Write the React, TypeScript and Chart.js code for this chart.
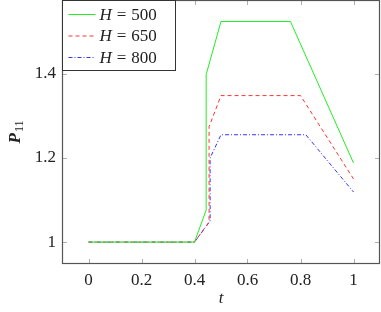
import React, { useEffect, useRef } from "react";
import { Chart, registerables } from "chart.js";

Chart.register(...registerables);

const tGreen = [0, 0.4, 0.444, 0.444, 0.5, 0.762, 1];
const pGreen = [1, 1, 1.076, 1.398, 1.524, 1.524, 1.188];
const tRed = [0, 0.4, 0.455, 0.455, 0.5, 0.8, 1];
const pRed = [1, 1, 1.048, 1.274, 1.348, 1.348, 1.15];
const tBlue = [0, 0.4, 0.459, 0.459, 0.5, 0.82, 1];
const pBlue = [1, 1, 1.05, 1.2, 1.255, 1.255, 1.119];
const legendValues = ["500", "650", "800"];
const xTicks = [0, 0.2, 0.4, 0.6, 0.8, 1];
const yTicks = [1, 1.2, 1.4];

const FONT = "'Liberation Serif', 'DejaVu Serif', serif";

const zip = (xs: number[], ys: number[]) => xs.map((x, i) => ({ x, y: ys[i] }));

const decor = {
  id: "decor",
  afterDraw(chart: any) {
    const ctx = chart.ctx as CanvasRenderingContext2D;
    const a = chart.chartArea;
    const xs = chart.scales.x;
    const ys = chart.scales.y;
    ctx.save();
    ctx.strokeStyle = "#b0b0b0";
    ctx.lineWidth = 1;
    ctx.beginPath();
    for (const v of xTicks) {
      const px = Math.round(xs.getPixelForValue(v)) + 0.5;
      ctx.moveTo(px, a.bottom);
      ctx.lineTo(px, a.bottom - 5);
      ctx.moveTo(px, a.top);
      ctx.lineTo(px, a.top + 5);
    }
    for (const v of yTicks) {
      const py = Math.round(ys.getPixelForValue(v)) + 0.5;
      ctx.moveTo(a.left, py);
      ctx.lineTo(a.left + 5, py);
      ctx.moveTo(a.right, py);
      ctx.lineTo(a.right - 5, py);
    }
    ctx.stroke();
    ctx.strokeStyle = "#555555";
    ctx.lineWidth = 1.2;
    ctx.strokeRect(a.left + 0.5, a.top + 0.5, a.right - a.left - 1, a.bottom - a.top - 1);

    const lx = a.left + 0.5;
    const ly = a.top + 0.5;
    const lw = 113;
    const lh = 70;
    ctx.fillStyle = "#ffffff";
    ctx.fillRect(lx, ly, lw, lh);
    ctx.strokeStyle = "#333333";
    ctx.lineWidth = 1;
    ctx.strokeRect(lx, ly, lw, lh);
    chart.data.datasets.forEach((ds: any, i: number) => {
      const yy = ly + 14 + i * 21.5;
      ctx.strokeStyle = ds.borderColor;
      ctx.lineWidth = ds.borderWidth;
      ctx.setLineDash(ds.borderDash || []);
      ctx.beginPath();
      ctx.moveTo(lx + 6, yy);
      ctx.lineTo(lx + 33, yy);
      ctx.stroke();
      ctx.setLineDash([]);
      ctx.fillStyle = "#222222";
      ctx.textBaseline = "middle";
      ctx.textAlign = "left";
      ctx.font = `italic 17px ${FONT}`;
      ctx.fillText("H", lx + 37, yy + 1);
      const hw = ctx.measureText("H").width;
      ctx.font = `17px ${FONT}`;
      ctx.fillText("=", lx + 37 + hw + 5, yy + 1);
      const ew = ctx.measureText("=").width;
      ctx.fillText(legendValues[i], lx + 37 + hw + 5 + ew + 5, yy + 1);
    });

    ctx.fillStyle = "#222222";
    ctx.font = `italic 17px ${FONT}`;
    ctx.textAlign = "center";
    ctx.textBaseline = "middle";
    ctx.fillText("t", (a.left + a.right) / 2, 299);

    ctx.translate(14, (a.top + a.bottom) / 2);
    ctx.rotate(-Math.PI / 2);
    ctx.font = `bold italic 17px ${FONT}`;
    const pw = ctx.measureText("P").width;
    ctx.font = `12px ${FONT}`;
    const sw = ctx.measureText("11").width;
    const total = pw + 1 + sw;
    ctx.textAlign = "left";
    ctx.textBaseline = "alphabetic";
    ctx.font = `bold italic 17px ${FONT}`;
    ctx.fillText("P", -total / 2, 6);
    ctx.font = `12px ${FONT}`;
    ctx.fillText("11", -total / 2 + pw + 1, 9);
    ctx.restore();
  },
};

export default function App() {
  const ref = useRef<HTMLCanvasElement>(null);
  useEffect(() => {
    document.body.style.margin = "0";
    let chart: Chart | null = null;
    let cancelled = false;
    const build = () => {
      if (cancelled || !ref.current) return;
      chart = new Chart(ref.current, {
        type: "scatter",
        data: {
          datasets: [
            {
              label: "H = 500",
              data: zip(tGreen, pGreen),
              showLine: true,
              borderColor: "#22ee22",
              backgroundColor: "#22ee22",
              borderWidth: 1,
              pointRadius: 0,
            },
            {
              label: "H = 650",
              data: zip(tRed, pRed),
              showLine: true,
              borderColor: "#ff3333",
              backgroundColor: "#ff3333",
              borderWidth: 1,
              borderDash: [4, 3],
              pointRadius: 0,
            },
            {
              label: "H = 800",
              data: zip(tBlue, pBlue),
              showLine: true,
              borderColor: "#3333ff",
              backgroundColor: "#3333ff",
              borderWidth: 1,
              borderDash: [4, 2, 1, 2],
              pointRadius: 0,
            },
          ],
        },
        options: {
          responsive: false,
          animation: false,
          layout: { padding: { top: 0, right: 1, left: 0, bottom: 0 } },
          plugins: { legend: { display: false }, tooltip: { enabled: false } },
          scales: {
            x: {
              type: "linear",
              min: -0.1,
              max: 1.1,
              afterBuildTicks: (s: any) => {
                s.ticks = xTicks.map((v) => ({ value: v }));
              },
              afterFit: (s: any) => {
                s.height = 48;
                s.paddingLeft = 0;
                s.paddingRight = 0;
              },
              grid: { display: false, drawTicks: false },
              border: { display: false },
              ticks: {
                padding: 6,
                color: "#222222",
                font: { family: FONT, size: 17 },
                maxRotation: 0,
                callback: (v: any) => String(v),
              },
            },
            y: {
              type: "linear",
              min: 0.948,
              max: 1.575,
              afterBuildTicks: (s: any) => {
                s.ticks = yTicks.map((v) => ({ value: v }));
              },
              afterFit: (s: any) => {
                s.width = 62;
                s.paddingTop = 0;
                s.paddingBottom = 0;
              },
              grid: { display: false, drawTicks: false },
              border: { display: false },
              ticks: {
                padding: 6,
                color: "#222222",
                font: { family: FONT, size: 17 },
                callback: (v: any) => String(v),
              },
            },
          },
        },
        plugins: [decor],
      });
    };
    const fonts = (document as any).fonts;
    if (fonts && fonts.load) {
      Promise.all([
        fonts.load(`17px 'Liberation Serif'`),
        fonts.load(`italic 17px 'Liberation Serif'`),
        fonts.load(`bold italic 17px 'Liberation Serif'`),
      ])
        .catch(() => null)
        .then(build);
    } else {
      build();
    }
    return () => {
      cancelled = true;
      if (chart) chart.destroy();
    };
  }, []);
  return <canvas ref={ref} width={381} height={312} style={{ display: "block" }} />;
}
